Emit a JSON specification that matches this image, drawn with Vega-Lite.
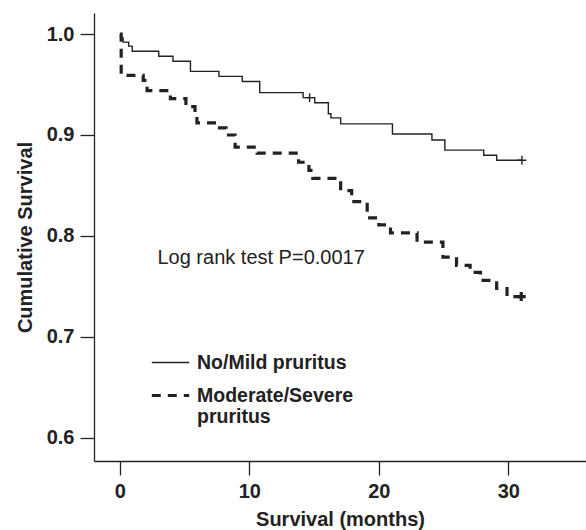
{
  "$schema": "https://vega.github.io/schema/vega-lite/v6.json",
  "autosize": {"type": "none"},
  "padding": {"left": 94, "top": 13, "right": 0, "bottom": 69},
  "width": 492,
  "height": 448,
  "background": "white",
  "config": {
    "view": {"stroke": null},
    "font": "Liberation Sans",
    "axis": {
      "grid": false,
      "domainColor": "#222",
      "domainWidth": 1.3,
      "tickColor": "#222",
      "tickWidth": 1.3,
      "tickSize": 14,
      "labelFont": "Liberation Sans",
      "labelFontSize": 20,
      "labelFontWeight": "bold",
      "labelColor": "#222",
      "titleFont": "Liberation Sans",
      "titleFontSize": 20,
      "titleFontWeight": "bold",
      "titleColor": "#222"
    },
    "legend": {
      "orient": "none",
      "legendX": 56,
      "legendY": 330,
      "padding": 0,
      "labelFont": "Liberation Sans",
      "labelFontSize": 19.5,
      "labelFontWeight": "bold",
      "labelColor": "#222",
      "labelLimit": 0,
      "symbolSize": 1400,
      "symbolType": "stroke",
      "symbolStrokeColor": "#222",
      "labelOffset": 6,
      "rowPadding": 3
    }
  },
  "datasets": {
    "km": [
      {"group": "No/Mild pruritus", "t": 0, "s": 1.0},
      {"group": "No/Mild pruritus", "t": 0.05, "s": 0.996},
      {"group": "No/Mild pruritus", "t": 0.25, "s": 0.992},
      {"group": "No/Mild pruritus", "t": 0.68, "s": 0.988},
      {"group": "No/Mild pruritus", "t": 0.95, "s": 0.983},
      {"group": "No/Mild pruritus", "t": 3.0, "s": 0.978},
      {"group": "No/Mild pruritus", "t": 4.1, "s": 0.973},
      {"group": "No/Mild pruritus", "t": 5.45, "s": 0.963},
      {"group": "No/Mild pruritus", "t": 7.65, "s": 0.958},
      {"group": "No/Mild pruritus", "t": 9.45, "s": 0.953},
      {"group": "No/Mild pruritus", "t": 10.8, "s": 0.942},
      {"group": "No/Mild pruritus", "t": 14.15, "s": 0.937},
      {"group": "No/Mild pruritus", "t": 15.05, "s": 0.932},
      {"group": "No/Mild pruritus", "t": 16.1, "s": 0.921},
      {"group": "No/Mild pruritus", "t": 16.3, "s": 0.917},
      {"group": "No/Mild pruritus", "t": 17.05, "s": 0.911},
      {"group": "No/Mild pruritus", "t": 21.05, "s": 0.901},
      {"group": "No/Mild pruritus", "t": 24.1, "s": 0.895},
      {"group": "No/Mild pruritus", "t": 25.1, "s": 0.885},
      {"group": "No/Mild pruritus", "t": 28.1, "s": 0.880},
      {"group": "No/Mild pruritus", "t": 29.1, "s": 0.875},
      {"group": "No/Mild pruritus", "t": 31.05, "s": 0.875},
      {"group": "Moderate/Severe pruritus", "t": 0, "s": 1.0},
      {"group": "Moderate/Severe pruritus", "t": 0.1, "s": 0.959},
      {"group": "Moderate/Severe pruritus", "t": 1.8, "s": 0.954},
      {"group": "Moderate/Severe pruritus", "t": 2.1, "s": 0.944},
      {"group": "Moderate/Severe pruritus", "t": 3.9, "s": 0.936},
      {"group": "Moderate/Severe pruritus", "t": 5.1, "s": 0.928},
      {"group": "Moderate/Severe pruritus", "t": 5.8, "s": 0.920},
      {"group": "Moderate/Severe pruritus", "t": 5.95, "s": 0.912},
      {"group": "Moderate/Severe pruritus", "t": 7.5, "s": 0.907},
      {"group": "Moderate/Severe pruritus", "t": 8.2, "s": 0.900},
      {"group": "Moderate/Severe pruritus", "t": 8.9, "s": 0.888},
      {"group": "Moderate/Severe pruritus", "t": 10.6, "s": 0.882},
      {"group": "Moderate/Severe pruritus", "t": 13.8, "s": 0.873},
      {"group": "Moderate/Severe pruritus", "t": 14.6, "s": 0.865},
      {"group": "Moderate/Severe pruritus", "t": 14.9, "s": 0.857},
      {"group": "Moderate/Severe pruritus", "t": 17.05, "s": 0.845},
      {"group": "Moderate/Severe pruritus", "t": 17.9, "s": 0.834},
      {"group": "Moderate/Severe pruritus", "t": 19.1, "s": 0.818},
      {"group": "Moderate/Severe pruritus", "t": 20.0, "s": 0.811},
      {"group": "Moderate/Severe pruritus", "t": 20.9, "s": 0.803},
      {"group": "Moderate/Severe pruritus", "t": 22.95, "s": 0.794},
      {"group": "Moderate/Severe pruritus", "t": 24.95, "s": 0.779},
      {"group": "Moderate/Severe pruritus", "t": 26.0, "s": 0.771},
      {"group": "Moderate/Severe pruritus", "t": 27.05, "s": 0.764},
      {"group": "Moderate/Severe pruritus", "t": 27.85, "s": 0.756},
      {"group": "Moderate/Severe pruritus", "t": 29.1, "s": 0.748},
      {"group": "Moderate/Severe pruritus", "t": 29.9, "s": 0.740},
      {"group": "Moderate/Severe pruritus", "t": 31.0, "s": 0.740}
    ],
    "censor": [
      {"group": "No/Mild pruritus", "t": 14.65, "s": 0.937},
      {"group": "No/Mild pruritus", "t": 31.05, "s": 0.875},
      {"group": "Moderate/Severe pruritus", "t": 31.0, "s": 0.740}
    ],
    "note": [
      {"label": "Log rank test P=0.0017"}
    ]
  },
  "layer": [
    {
      "data": {"name": "km"},
      "mark": {"type": "line", "interpolate": "step-after", "color": "#222", "strokeCap": "butt"},
      "encoding": {
        "x": {
          "field": "t", "type": "quantitative",
          "scale": {"domain": [-2, 36], "nice": false, "zero": false},
          "axis": {"values": [0, 10, 20, 30], "title": "Survival (months)", "labelPadding": 6, "titlePadding": 8}
        },
        "y": {
          "field": "s", "type": "quantitative",
          "scale": {"domain": [0.5772, 1.0208], "nice": false, "zero": false},
          "axis": {"values": [0.6, 0.7, 0.8, 0.9, 1.0], "format": ".1f", "title": "Cumulative Survival", "labelPadding": 6, "titlePadding": 11}
        },
        "strokeDash": {
          "field": "group", "type": "nominal",
          "scale": {"domain": ["No/Mild pruritus", "Moderate/Severe pruritus"], "range": [[1, 0], [9, 7]]},
          "legend": {"title": null, "labelExpr": "datum.label === 'Moderate/Severe pruritus' ? ['Moderate/Severe', 'pruritus'] : datum.label"}
        },
        "strokeWidth": {
          "field": "group", "type": "nominal",
          "scale": {"domain": ["No/Mild pruritus", "Moderate/Severe pruritus"], "range": [1.4, 3.2]},
          "legend": {"title": null, "labelExpr": "datum.label === 'Moderate/Severe pruritus' ? ['Moderate/Severe', 'pruritus'] : datum.label"}
        }
      }
    },
    {
      "data": {"name": "censor"},
      "mark": {"type": "point", "shape": "M-1,0H1M0,-1V1", "filled": false, "stroke": "#222", "size": 80, "opacity": 1},
      "encoding": {
        "x": {"field": "t", "type": "quantitative"},
        "y": {"field": "s", "type": "quantitative"},
        "strokeWidth": {"field": "group", "type": "nominal"}
      }
    },
    {
      "data": {"name": "note"},
      "mark": {"type": "text", "align": "left", "baseline": "middle", "font": "Liberation Sans", "fontSize": 20, "color": "#222"},
      "encoding": {
        "x": {"datum": 2.9},
        "y": {"datum": 0.778},
        "text": {"field": "label"}
      }
    }
  ]
}
